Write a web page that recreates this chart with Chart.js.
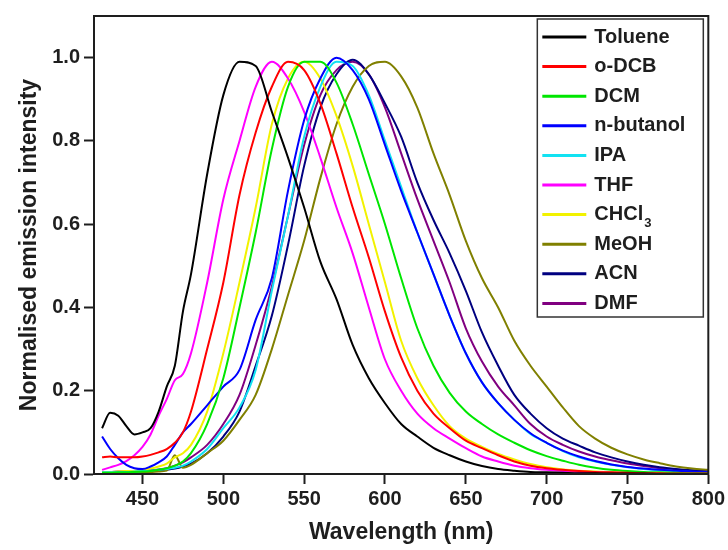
<!DOCTYPE html>
<html>
<head>
<meta charset="utf-8">
<script src="https://cdn.jsdelivr.net/npm/chart.js@4.4.1/dist/chart.umd.min.js"></script>
<style>
  html, body { margin: 0; padding: 0; background: #fff; }
  #wrap { width: 728px; height: 550px; }
</style>
</head>
<body>
<div id="wrap"><canvas id="chart" width="728" height="550"></canvas></div>
<script>
// emission spectra (nm, normalised intensity)
const wavelengths = [425, 430, 435, 440, 445, 450, 455, 460, 465, 470, 475, 480,
  490, 500, 510, 520, 530, 540, 550, 560, 570, 580,
  590, 600, 610, 620, 630, 640, 650, 660, 670, 680,
  690, 700, 710, 720, 730, 740, 750, 760, 770, 780, 790, 800];

const solvents = ['Toluene', 'o-DCB', 'DCM', 'n-butanol', 'IPA', 'THF', 'CHCl₃', 'MeOH', 'ACN', 'DMF'];
const colors = ['#000000', '#ff0000', '#00e600', '#0000ff', '#12e2f2', '#ff00ff', '#f2f200', '#808000', '#000080', '#800080'];

const toluene = [0.11, 0.147, 0.14, 0.115, 0.095, 0.10, 0.11, 0.15, 0.21, 0.26, 0.39, 0.48,
  0.72, 0.91, 0.99, 0.98, 0.87, 0.76, 0.64, 0.51, 0.42, 0.31,
  0.23, 0.17, 0.12, 0.09, 0.063, 0.045, 0.03, 0.019, 0.012, 0.008,
  0.005, 0.004, 0.003, 0.002, 0.002, 0.001, 0.001, 0.001, 0, 0, 0, 0];
const oDCB = [0.04, 0.042, 0.04, 0.04, 0.04, 0.042, 0.046, 0.052, 0.06, 0.075, 0.10, 0.15,
  0.30, 0.46, 0.67, 0.82, 0.93, 0.99, 0.97, 0.89, 0.77, 0.64,
  0.52, 0.39, 0.28, 0.20, 0.145, 0.11, 0.08, 0.062, 0.045, 0.03,
  0.02, 0.014, 0.01, 0.007, 0.005, 0.004, 0.003, 0.002, 0.002, 0.001, 0.001, 0.001];
const dcm = [0.003, 0.003, 0.004, 0.004, 0.005, 0.006, 0.007, 0.01, 0.014, 0.02, 0.03, 0.05,
  0.12, 0.23, 0.40, 0.58, 0.78, 0.93, 0.99, 0.99, 0.94, 0.84,
  0.72, 0.60, 0.47, 0.35, 0.26, 0.195, 0.15, 0.12, 0.095, 0.075,
  0.057, 0.043, 0.032, 0.022, 0.015, 0.01, 0.007, 0.005, 0.004, 0.003, 0.002, 0.002];
const nButanol = [0.09, 0.06, 0.038, 0.022, 0.014, 0.012, 0.018, 0.028, 0.042, 0.07, 0.10, 0.12,
  0.165, 0.21, 0.25, 0.37, 0.47, 0.68, 0.85, 0.95, 1.0, 0.97,
  0.90, 0.79, 0.68, 0.58, 0.48, 0.38, 0.29, 0.22, 0.17, 0.13,
  0.098, 0.075, 0.056, 0.042, 0.031, 0.023, 0.017, 0.013, 0.01, 0.008, 0.006, 0.005];
const ipa = [0.004, 0.004, 0.005, 0.005, 0.006, 0.007, 0.008, 0.01, 0.012, 0.015, 0.02, 0.03,
  0.06, 0.11, 0.16, 0.25, 0.44, 0.62, 0.81, 0.93, 0.99, 0.98,
  0.91, 0.80, 0.69, 0.58, 0.48, 0.38, 0.29, 0.22, 0.17, 0.13,
  0.096, 0.075, 0.055, 0.04, 0.03, 0.022, 0.016, 0.012, 0.009, 0.007, 0.005, 0.004];
const thf = [0.01, 0.016, 0.022, 0.031, 0.045, 0.065, 0.095, 0.14, 0.18, 0.225, 0.24, 0.29,
  0.46, 0.66, 0.80, 0.93, 0.99, 0.95, 0.87, 0.76, 0.64, 0.53,
  0.40, 0.275, 0.20, 0.145, 0.11, 0.085, 0.062, 0.042, 0.03, 0.02,
  0.014, 0.01, 0.007, 0.005, 0.004, 0.003, 0.002, 0.002, 0.001, 0.001, 0.001, 0.001];
const chcl3 = [0.005, 0.005, 0.006, 0.007, 0.008, 0.01, 0.013, 0.018, 0.025, 0.04, 0.05, 0.07,
  0.15, 0.29, 0.46, 0.64, 0.84, 0.95, 0.99, 0.95, 0.86, 0.74,
  0.60, 0.46, 0.32, 0.23, 0.165, 0.115, 0.085, 0.065, 0.048, 0.035,
  0.024, 0.016, 0.011, 0.008, 0.006, 0.004, 0.003, 0.002, 0.002, 0.001, 0.001, 0.001];
const meoh = [0.002, 0.003, 0.003, 0.004, 0.004, 0.005, 0.005, 0.006, 0.008, 0.045, 0.015, 0.022,
  0.05, 0.08, 0.13, 0.19, 0.30, 0.43, 0.56, 0.71, 0.84, 0.93,
  0.98, 0.99, 0.955, 0.88, 0.77, 0.67, 0.56, 0.47, 0.40, 0.32,
  0.26, 0.21, 0.16, 0.115, 0.085, 0.063, 0.047, 0.035, 0.026, 0.018, 0.013, 0.01];
const acn = [0.005, 0.005, 0.005, 0.005, 0.005, 0.006, 0.007, 0.008, 0.01, 0.013, 0.018, 0.025,
  0.05, 0.09, 0.15, 0.26, 0.38, 0.55, 0.74, 0.88, 0.96, 0.995,
  0.96, 0.89, 0.81, 0.70, 0.61, 0.53, 0.44, 0.34, 0.26, 0.19,
  0.145, 0.11, 0.085, 0.068, 0.052, 0.04, 0.03, 0.022, 0.016, 0.012, 0.009, 0.007];
const dmf = [0.005, 0.005, 0.006, 0.006, 0.007, 0.008, 0.009, 0.011, 0.014, 0.02, 0.028, 0.04,
  0.07, 0.12, 0.19, 0.31, 0.45, 0.62, 0.79, 0.91, 0.97, 0.99,
  0.96, 0.88, 0.77, 0.66, 0.56, 0.46, 0.35, 0.27, 0.21, 0.165,
  0.12, 0.09, 0.07, 0.054, 0.042, 0.033, 0.025, 0.019, 0.014, 0.01, 0.008, 0.006];

const series = [toluene, oDCB, dcm, nButanol, ipa, thf, chcl3, meoh, acn, dmf];

const xTicks = [450, 500, 550, 600, 650, 700, 750, 800];
const yTicks = [0, 0.2, 0.4, 0.6, 0.8, 1.0];

const FONT = '"Liberation Sans", Arial, sans-serif';
const INK = '#1e1e1e';
Chart.defaults.font.family = FONT;

// box around the plot, like the Origin frame
const framePlugin = {
  id: 'frame',
  afterDraw(chart) {
    const { ctx, chartArea: a } = chart;
    ctx.save();
    ctx.strokeStyle = INK;
    ctx.lineWidth = 2;
    ctx.strokeRect(a.left, a.top, a.right - a.left, a.bottom - a.top);
    ctx.restore();
  }
};

// legend drawn inside the plot, top right
const insideLegend = {
  id: 'insideLegend',
  afterDraw(chart) {
    const { ctx, chartArea: a } = chart;
    const boxL = a.right - 171, boxT = a.top + 3, boxW = 166, boxH = 298;
    ctx.save();
    ctx.strokeStyle = '#333';
    ctx.lineWidth = 1.5;
    ctx.strokeRect(boxL, boxT, boxW, boxH);
    chart.data.datasets.forEach((ds, i) => {
      const y = boxT + 18 + i * 29.6;
      ctx.strokeStyle = ds.borderColor;
      ctx.lineWidth = 3;
      ctx.beginPath();
      ctx.moveTo(boxL + 5, y);
      ctx.lineTo(boxL + 49, y);
      ctx.stroke();
      ctx.fillStyle = INK;
      ctx.textBaseline = 'middle';
      ctx.font = 'bold 20px ' + FONT;
      const label = ds.label;
      const sub = label.match(/[₀-₉]$/);
      if (sub) {
        const main = label.slice(0, -1);
        ctx.fillText(main, boxL + 57, y);
        const w = ctx.measureText(main).width;
        ctx.font = 'bold 13px ' + FONT;
        ctx.fillText(String.fromCharCode(sub[0].charCodeAt(0) - 0x2080 + 48), boxL + 58 + w, y + 9);
      } else {
        ctx.fillText(label, boxL + 57, y);
      }
    });
    ctx.restore();
  }
};

new Chart(document.getElementById('chart'), {
  type: 'line',
  data: {
    datasets: series.map((vals, i) => ({
      label: solvents[i],
      data: wavelengths.map((w, j) => ({ x: w, y: vals[j] })),
      borderColor: colors[i],
      borderWidth: 2,
      pointRadius: 0,
      fill: false,
      cubicInterpolationMode: 'monotone'
    }))
  },
  options: {
    responsive: false,
    animation: false,
    events: [],
    layout: { padding: { top: 16, right: 19, left: 0, bottom: 0 } },
    plugins: {
      legend: { display: false },
      tooltip: { enabled: false }
    },
    scales: {
      x: {
        type: 'linear',
        min: 420,
        max: 800,
        afterBuildTicks: s => { s.ticks = xTicks.map(v => ({ value: v })); },
        afterFit: s => { s.height = 76; },
        ticks: {
          color: INK,
          font: { size: 20, weight: 'bold' },
          padding: 3,
          maxRotation: 0,
          autoSkip: false
        },
        grid: { drawOnChartArea: false, tickLength: 10, tickColor: INK, tickWidth: 2 },
        border: { display: true, color: INK, width: 2 },
        title: {
          display: true,
          text: 'Wavelength (nm)',
          color: INK,
          font: { size: 23, weight: 'bold' },
          padding: { top: 0, bottom: 4 }
        }
      },
      y: {
        min: 0,
        max: 1.1,
        afterBuildTicks: s => { s.ticks = yTicks.map(v => ({ value: v })); },
        afterFit: s => { s.width = 94; },
        ticks: {
          color: INK,
          font: { size: 20, weight: 'bold' },
          padding: 4,
          callback: v => Number(v).toFixed(1)
        },
        grid: { drawOnChartArea: false, tickLength: 10, tickColor: INK, tickWidth: 2 },
        border: { display: true, color: INK, width: 2 },
        title: {
          display: true,
          text: 'Normalised emission intensity',
          color: INK,
          font: { size: 23, weight: 'bold' },
          padding: { top: 16, bottom: 0 }
        }
      }
    }
  },
  plugins: [framePlugin, insideLegend]
});
</script>
</body>
</html>
